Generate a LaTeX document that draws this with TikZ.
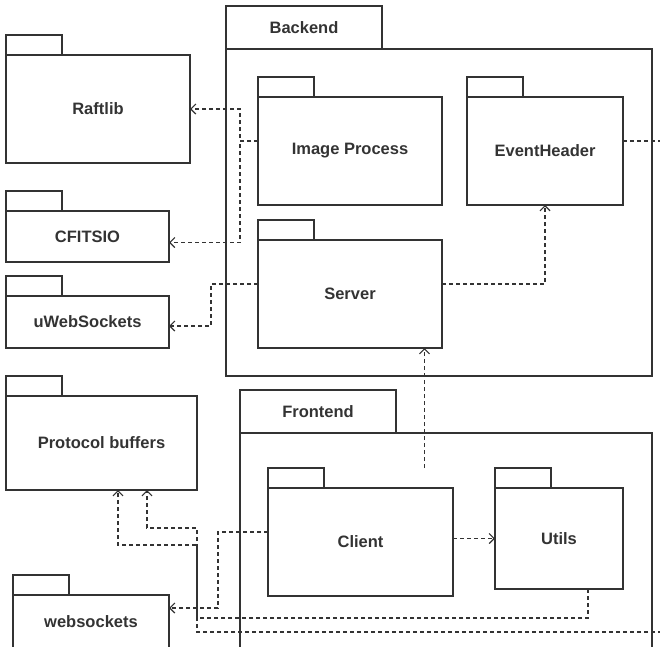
\documentclass[tikz,border=0pt]{standalone}
\usepackage{fontspec}
\setmainfont{Liberation Sans}
\usetikzlibrary{arrows.meta}

\begin{document}
\begin{tikzpicture}[x=1pt, y=-1pt, >={Straight Barb[length=5pt,width=10pt]},
		pkg/.style={draw=black!80, line width=1.3pt, inner sep=0pt, outer sep=0pt, text=black!80,
			font=\fontsize{16.5}{20}\selectfont\bfseries},
		pkgtab/.style={pkg, anchor=south west, minimum width=56pt, minimum height=20pt},
		dep/.style={->, draw=black!80, dash pattern=on 4pt off 3pt, line width=1.2pt}]
		\useasboundingbox (0,0) rectangle (660,646);
		\clip (0,0) rectangle (660,646);
		% libraries
		\node[pkg, minimum width=184pt, minimum height=108pt] (raft) at (98,109) {Raftlib};
		\node[pkgtab] (rafttab) at (raft.north west) {};
		\node[pkg, minimum width=163pt, minimum height=51pt] (cfits) at (87.5,236.5) {CFITSIO};
		\node[pkgtab] (cfitstab) at (cfits.north west) {};
		\node[pkg, minimum width=163pt, minimum height=52pt] (uws) at (87.5,322) {uWebSockets};
		\node[pkgtab] (uwstab) at (uws.north west) {};
		\node[pkg, minimum width=191pt, minimum height=94pt] (proto) at (101.5,443) {Protocol buffers};
		\node[pkgtab] (prototab) at (proto.north west) {};
		\node[pkg, minimum width=156pt, minimum height=53pt] (ws) at (91,621.5) {websockets};
		\node[pkgtab] (wstab) at (ws.north west) {};
		% backend
		\node[pkg, minimum width=426pt, minimum height=327pt] (back) at (439,212.5) {};
		\node[pkgtab, minimum width=156pt, minimum height=43pt] (backtab) at (back.north west) {Backend};
		\node[pkg, minimum width=184pt, minimum height=108pt] (img) at (350,151) {Image Process};
		\node[pkgtab] (imgtab) at (img.north west) {};
		\node[pkg, minimum width=156pt, minimum height=108pt] (evh) at (545,151) {EventHeader};
		\node[pkgtab] (evhtab) at (evh.north west) {};
		\node[pkg, minimum width=184pt, minimum height=108pt] (server) at (350,294) {Server};
		\node[pkgtab] (servertab) at (server.north west) {};
		% frontend
		\node[pkg, minimum width=412pt, minimum height=219pt] (front) at (446,542.5) {};
		\node[pkgtab, minimum width=156pt, minimum height=43pt] (fronttab) at (front.north west) {Frontend};
		\node[pkg, minimum width=185pt, minimum height=108pt] (client) at (360.5,542) {Client};
		\node[pkgtab] (clienttab) at (client.north west) {};
		\node[pkg, minimum width=128pt, minimum height=101pt] (utils) at (559,538.5) {Utils};
		\node[pkgtab] (utilstab) at (utils.north west) {};
		% dependencies
		\draw[dep] ([yshift=10pt]img.west) -- ++(-18,0) |- (raft.east);
		\draw[dep] ([yshift=10pt]img.west) -- ++(-18,0) |- ([yshift=-6pt]cfits.east);
		\draw[dep] ([yshift=10pt]server.west) -- ++(-47,0) |- ([yshift=-4pt]uws.east);
		\draw[dep] ([yshift=10pt]server.east) -| (evh.south);
		\draw[dep] ([yshift=10pt]evh.east) -- ++(47,0) -- ++(0,491) -- ++(-473,0) -- ++(0,-87) -| ([xshift=16.5pt]proto.south);
		\draw[dep] ([xshift=29pt]utils.south) -- ++(0,29) -- ++(-391,0) -- ++(0,-90) -| ([xshift=45.5pt]proto.south);
		\draw[dep] ([yshift=10pt]client.west) -- ++(-50,0) |- ([yshift=13.5pt]ws.east);
		\draw[dep] (client.east |- utils.west) -- (utils.west);
		\coordinate (up) at ([xshift=64pt,yshift=20pt]client.north);
		\draw[dep] (up) -- (up |- server.south);
	\end{tikzpicture}
\end{document}
